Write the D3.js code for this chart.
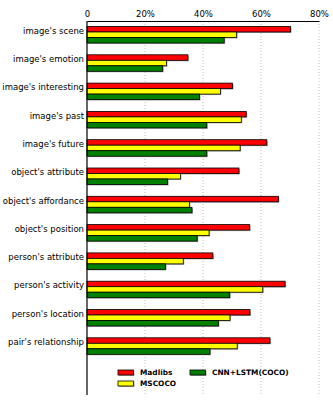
<!DOCTYPE html>
<html><head><meta charset="utf-8">
<script src="https://cdn.jsdelivr.net/npm/d3@7"></script>
<style>body{margin:0;background:#fff}svg{display:block}</style>
</head><body><svg id="c" width="333" height="416"></svg>
<script>
const categories = ["image's scene","image's emotion","image's interesting","image's past","image's future","object's attribute","object's affordance","object's position","person's attribute","person's activity","person's location","pair's relationship"];
const seriesNames = ["Madlibs","MSCOCO","CNN+LSTM(COCO)"];
const madlibs = [70.2,34.8,50.2,54.9,62.0,52.4,66.0,56.1,43.4,68.3,56.2,63.1];
const mscoco = [51.6,27.4,46.0,53.2,52.8,32.2,35.3,42.1,33.2,60.6,49.3,51.8];
const cnnlstm = [47.3,26.1,38.8,41.3,41.3,27.8,36.2,38.0,27.1,49.2,45.3,42.4];
const tickValues = [0,20,40,60,80];
const colors = ["#ff0000","#ffff00","#008000"];

(function(){
const svg = d3.select("#c");
const pLeft = 87, pRight = 319, pTop = 21, pBottom = 395;
const x = d3.scaleLinear().domain([0,80]).range([pLeft,pRight]);
const step = 28.3;
const y = d3.scaleBand().domain(categories).range([pTop, pTop + step*categories.length]).padding(0);
const ySub = d3.scaleBand().domain(seriesNames).range([5.5, 5.5+16.5]).padding(0);
const series = [madlibs, mscoco, cnnlstm];

// grid
svg.append("g").selectAll("line").data(tickValues.slice(1)).join("line")
  .attr("x1", d=>x(d)).attr("x2", d=>x(d)).attr("y1", pTop).attr("y2", pBottom)
  .attr("stroke", "#aaa").attr("stroke-width", 0.8).attr("stroke-dasharray", "1,2");

// bars
const g = svg.append("g");
series.forEach((vals, si) => {
  const name = seriesNames[si];
  g.append("g").selectAll("rect").data(vals).join("rect")
    .attr("x", x(0)+1).attr("y", (d,i)=>y(categories[i])+ySub(name)+1)
    .attr("width", d=>x(d)-x(0)).attr("height", ySub.bandwidth())
    .attr("fill", "#aaa");
});
series.forEach((vals, si) => {
  const name = seriesNames[si];
  g.append("g").selectAll("rect").data(vals).join("rect")
    .attr("x", x(0)).attr("y", (d,i)=>y(categories[i])+ySub(name))
    .attr("width", d=>x(d)-x(0)).attr("height", ySub.bandwidth())
    .attr("fill", colors[si]).attr("stroke", "#000").attr("stroke-width", 0.8);
});

// axes
const xa = svg.append("g").attr("transform", `translate(0,${pTop})`)
  .call(d3.axisTop(x).tickValues(tickValues).tickFormat(d=>d===0?"0":d+"%").tickSize(0).tickPadding(4).tickSizeOuter(0));
xa.select(".domain").attr("stroke","#000").attr("stroke-width",1.2);
xa.selectAll("text").attr("font-family","DejaVu Sans").attr("font-size","8.5px").attr("fill","#000");

svg.append("line").attr("x1",pLeft).attr("x2",pLeft).attr("y1",pTop).attr("y2",pBottom)
  .attr("stroke","#000").attr("stroke-width",1.2);

svg.append("g").selectAll("text").data(categories).join("text")
  .attr("x", pLeft-3).attr("y", d=>y(d)+ySub("MSCOCO"))
  .attr("text-anchor","end").attr("dy","0.2em")
  .attr("font-family","DejaVu Sans").attr("font-size","8.5px").attr("fill","#000")
  .text(d=>d);

// legend
const legendPos = [[118,370],[118,381],[190,370]];
const lg = svg.append("g");
seriesNames.forEach((n,i)=>{
  const [lx,ly] = legendPos[i];
  lg.append("rect").attr("x",lx+1).attr("y",ly+1).attr("width",15.5).attr("height",5).attr("fill","#aaa");
  lg.append("rect").attr("x",lx).attr("y",ly).attr("width",15.5).attr("height",5)
    .attr("fill",colors[i]).attr("stroke","#000").attr("stroke-width",0.8);
  lg.append("text").attr("x",lx+22).attr("y",ly+5.2)
    .attr("font-family","DejaVu Sans").attr("font-weight","bold").attr("font-size","7.4px").attr("fill","#000")
    .text(n);
});
})();
</script></body></html>
